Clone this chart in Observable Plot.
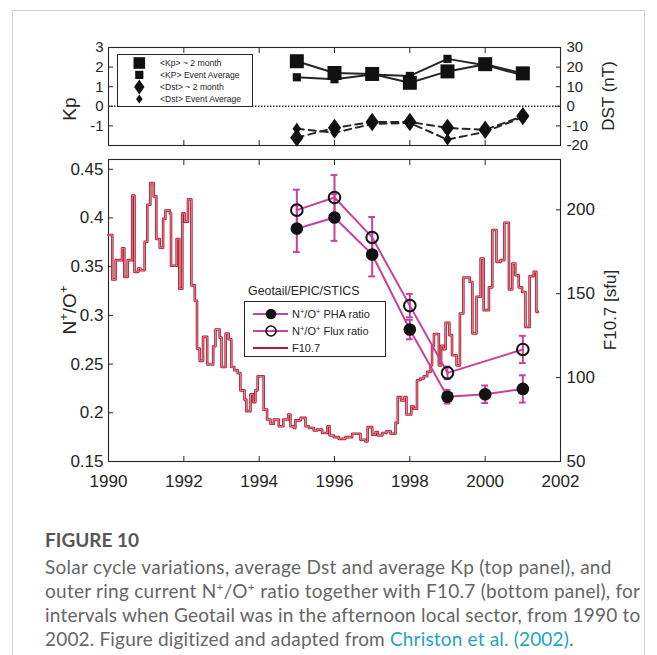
<!DOCTYPE html>
<html>
<head>
<meta charset="utf-8">
<script src="https://cdn.jsdelivr.net/npm/d3@7"></script>
<script src="https://cdn.jsdelivr.net/npm/@observablehq/plot@0.6"></script>
<style>
  body { margin: 0; background: #fff; }
  #fig { position: relative; width: 657px; height: 655px; overflow: hidden; font-family: "Liberation Sans", Arial, sans-serif; color: #262626; }
  #fig svg { position: absolute; left: 0; }
  .border { position: absolute; left: 12px; top: 10px; width: 631px; height: 720px; border: 1px solid #d4d4d4; }
  .ytitle { position: absolute; white-space: nowrap; transform: translate(-50%, -50%) rotate(-90deg); font-size: 19px; color: #262626; }
  .ytitle sup { font-size: 13px; vertical-align: 8px; line-height: 0; }
  .caption-title { position: absolute; left: 45px; top: 528px; font-family: Lato, sans-serif; font-weight: 700; font-size: 19px; color: #555; }
  .caption { position: absolute; left: 45px; top: 555px; font-family: Lato, sans-serif; font-size: 19px; line-height: 24px; color: #666; white-space: nowrap; }
  .caption .ln { display: block; width: max-content; }
  .caption sup { font-size: 12px; vertical-align: 7px; line-height: 0; }
  .caption a { color: #1ea5c0; text-decoration: none; }
</style>
</head>
<body>
<div id="fig">
  <div class="border"></div>
</div>
<script>
// Geotail afternoon-sector intervals, 1995–2001
const years = [1995, 1996, 1997, 1998, 1999, 2000, 2001];
const kpTwoMonth = [2.3, 1.7, 1.65, 1.2, 1.78, 2.15, 1.68];
const kpEvent = [1.48, 1.38, 1.62, 1.55, 2.42, 2.1, 1.58];
const dstTwoMonth = [-16, -11, -8, -8, -11, -12, -5];
const dstEvent = [-11.5, -13.5, -9, -8.5, -17, -13, -5.5];

// N+/O+ ratios with error half-widths
const phaRatio = [0.389, 0.4005, 0.3625, 0.2855, 0.2165, 0.219, 0.2245];
const phaError = [0.024, 0.024, 0.0225, 0.010, 0.007, 0.009, 0.014];
const fluxYears = [1995, 1996, 1997, 1998, 1999, 2001];
const fluxRatio = [0.408, 0.421, 0.380, 0.310, 0.241, 0.265];
const fluxError = [0.021, 0.023, 0.021, 0.012, 0.0065, 0.014];

// F10.7 solar flux (sfu), step series: start of each interval and its value
const f107Year = [1990.00,1990.10,1990.19,1990.36,1990.42,1990.51,1990.63,1990.69,1990.79,1990.85,1990.96,
  1991.03,1991.11,1991.20,1991.27,1991.36,1991.45,1991.51,1991.63,1991.66,1991.81,1991.88,1991.96,
  1992.02,1992.11,1992.20,1992.29,1992.35,1992.42,1992.51,1992.62,1992.78,1992.84,1992.95,
  1993.00,1993.11,1993.19,1993.26,1993.34,1993.43,1993.50,1993.61,1993.66,1993.77,1993.84,1993.90,1993.96,
  1994.12,1994.21,1994.30,1994.39,1994.52,1994.64,1994.77,1994.83,1994.92,1994.96,
  1995.10,1995.23,1995.32,1995.45,1995.54,1995.67,1995.81,1995.87,1995.98,
  1996.11,1996.29,1996.47,1996.69,1996.82,1996.88,
  1997.00,1997.09,1997.15,1997.27,1997.38,1997.49,1997.62,1997.68,1997.77,1997.86,1997.91,
  1998.04,1998.10,1998.19,1998.28,1998.37,1998.46,1998.55,1998.59,1998.64,1998.77,1998.83,1998.89,1998.95,
  1999.05,1999.12,1999.24,1999.33,1999.42,1999.59,1999.66,1999.77,1999.88,1999.96,
  2000.10,2000.19,2000.30,2000.41,2000.51,2000.63,2000.72,2000.80,2000.89,2000.98,
  2001.07,2001.18,2001.29,2001.36];
const f107Value = [185,158.5,170,177,160,170,208.5,163,165,164,181,
  203,216,208,182.6,177.4,194.6,199.5,198,166.7,182.6,153,198,
  193,206.3,155,145.8,117.3,110,124.3,107.8,118.7,128.7,123.9,
  106.3,126.3,122.9,106.3,104.4,102.7,92.4,86.9,80,90,85.4,92.4,100.8,
  80.9,75,72.5,75,71,75,78,71,70,74.5,
  76,71,70,68.5,69,67,71,65.5,64.5,
  63.5,64.5,66.5,63,62,70.5,
  66,67.5,65.5,67,68,66.5,73,88.4,86.4,88.4,78,
  82.9,81.5,98.4,99.4,100.8,103.4,107.3,119,126,107.3,119,117,132.6,
  125.3,113.3,107.3,138.2,159.7,157,126.3,148.2,171,140.2,
  153.8,188,169,170,192.3,152.6,168,161,153.8,151,
  130.2,160.5,163,139.2];
const f107End = 2001.40;

// Axis ticks
const yearTicks = [1990, 1992, 1994, 1996, 1998, 2000, 2002];
const kpTicks = [-1, 0, 1, 2, 3];
const dstTicks = [-20, -10, 0, 10, 20, 30];
const ratioTicks = [0.15, 0.2, 0.25, 0.3, 0.35, 0.4, 0.45];
const f107Ticks = [50, 100, 150, 200];

// Right-hand axes share the left-hand scales through linear maps
const dstToKp = d => d / 10;
const f107ToRatio = f => 0.15 + (f - 50) * 0.31 / 180;

const ink = "#262626";
const magenta = "#c6429b";
const crimson = "#b3192f";
const font = '"Liberation Sans", Arial, sans-serif';

// diamond a little narrower than it is tall
const diamond = {
  draw(ctx, size) {
    const h = Math.sqrt(size / Math.PI), w = h * 0.72;
    ctx.moveTo(0, -h); ctx.lineTo(w, 0); ctx.lineTo(0, h); ctx.lineTo(-w, 0); ctx.closePath();
  }
};

const geo = years.map((year, i) => ({
  year, kp2: kpTwoMonth[i], kpE: kpEvent[i], dst2: dstTwoMonth[i], dstE: dstEvent[i],
  pha: phaRatio[i], phaErr: phaError[i]
}));
const flux = fluxYears.map((year, i) => ({year, ratio: fluxRatio[i], err: fluxError[i]}));
const f107 = f107Year.map((year, i) => ({year, f: f107Value[i]}))
  .concat([{year: f107End, f: f107Value[f107Value.length - 1]}]);

// ---------- top panel: Kp and Dst ----------
const topPanel = Plot.plot({
  width: 657, height: 160,
  marginLeft: 108, marginRight: 97, marginTop: 47, marginBottom: 15,
  x: {domain: [1990, 2002]},
  y: {domain: [-2, 3]},
  style: {fontFamily: font, fontSize: "15px", color: ink, background: "transparent", overflow: "visible"},
  marks: [
    Plot.ruleY([0], {stroke: ink, strokeWidth: 1.6, strokeDasharray: "1.4,1.6"}),
    Plot.axisX(yearTicks, {anchor: "top", tickSize: -5, tickFormat: () => "", label: null}),
    Plot.axisX(yearTicks, {anchor: "bottom", tickSize: -5, tickFormat: () => "", label: null}),
    Plot.axisY(kpTicks, {anchor: "left", tickSize: -5, tickPadding: 10, label: null, fontSize: 15, tickFormat: d => String(d)}),
    Plot.axisY(dstTicks.map(dstToKp), {anchor: "right", tickSize: -5, tickPadding: 11, label: null, fontSize: 15, tickFormat: d => String(Math.round(d * 10))}),
    Plot.frame({stroke: ink, strokeWidth: 1.1}),
    Plot.line(geo, {x: "year", y: d => dstToKp(d.dst2), stroke: ink, strokeWidth: 2, strokeDasharray: "7,5"}),
    Plot.line(geo, {x: "year", y: d => dstToKp(d.dstE), stroke: ink, strokeWidth: 2, strokeDasharray: "7,5"}),
    Plot.line(geo, {x: "year", y: "kp2", stroke: ink, strokeWidth: 2}),
    Plot.line(geo, {x: "year", y: "kpE", stroke: ink, strokeWidth: 2}),
    Plot.dot(geo, {x: "year", y: d => dstToKp(d.dst2), symbol: diamond, r: 9.2, fill: "#111", stroke: "none"}),
    Plot.dot(geo, {x: "year", y: d => dstToKp(d.dstE), symbol: diamond, r: 6, fill: "#111", stroke: "none"}),
    Plot.dot(geo, {x: "year", y: "kp2", symbol: "square", r: 7.9, fill: "#111", stroke: "none"}),
    Plot.dot(geo, {x: "year", y: "kpE", symbol: "square", r: 4.6, fill: "#111", stroke: "none"})
  ]
});
topPanel.style.top = "0px";

// ---------- bottom panel: N+/O+ ratio and F10.7 ----------
const bottomPanel = Plot.plot({
  width: 657, height: 345,
  marginLeft: 108, marginRight: 97, marginTop: 9, marginBottom: 34,
  x: {domain: [1990, 2002]},
  y: {domain: [0.15, 0.46]},
  style: {fontFamily: font, fontSize: "17px", color: ink, background: "transparent", overflow: "visible"},
  marks: [
    Plot.axisX(yearTicks, {anchor: "top", tickSize: -5, tickFormat: () => "", label: null}),
    Plot.axisX(yearTicks, {anchor: "bottom", tickSize: -5, tickPadding: 18, label: null, fontSize: 17, tickFormat: d => String(d)}),
    Plot.axisY(ratioTicks, {anchor: "left", tickSize: -5, tickPadding: 10, label: null, fontSize: 17, tickFormat: d => String(+d.toFixed(2))}),
    Plot.axisY(f107Ticks.map(f107ToRatio), {anchor: "right", tickSize: -5, tickPadding: 11, label: null, fontSize: 17,
      tickFormat: d => String(Math.round(50 + (d - 0.15) * 180 / 0.31))}),
    Plot.frame({stroke: ink, strokeWidth: 1.1}),
    // F10.7 drawn as a double stroke
    Plot.line(f107, {x: "year", y: d => f107ToRatio(d.f), curve: "step-after", stroke: crimson, strokeWidth: 2.6}),
    Plot.line(f107, {x: "year", y: d => f107ToRatio(d.f), curve: "step-after", stroke: "#efbcc3", strokeWidth: 0.7}),
    Plot.line(geo, {x: "year", y: "pha", stroke: magenta, strokeWidth: 2}),
    Plot.line(flux, {x: "year", y: "ratio", stroke: magenta, strokeWidth: 2}),
    // error bars with caps
    Plot.ruleX(geo, {x: "year", y1: d => d.pha - d.phaErr, y2: d => d.pha + d.phaErr, stroke: magenta, strokeWidth: 2}),
    Plot.ruleX(flux, {x: "year", y1: d => d.ratio - d.err, y2: d => d.ratio + d.err, stroke: magenta, strokeWidth: 2}),
    Plot.ruleY(geo, {y: d => d.pha + d.phaErr, x1: d => d.year - 0.09, x2: d => d.year + 0.09, stroke: magenta, strokeWidth: 2}),
    Plot.ruleY(geo, {y: d => d.pha - d.phaErr, x1: d => d.year - 0.09, x2: d => d.year + 0.09, stroke: magenta, strokeWidth: 2}),
    Plot.ruleY(flux, {y: d => d.ratio + d.err, x1: d => d.year - 0.09, x2: d => d.year + 0.09, stroke: magenta, strokeWidth: 2}),
    Plot.ruleY(flux, {y: d => d.ratio - d.err, x1: d => d.year - 0.09, x2: d => d.year + 0.09, stroke: magenta, strokeWidth: 2}),
    Plot.dot(geo, {x: "year", y: "pha", r: 6.3, fill: "#111", stroke: "none"}),
    Plot.dot(flux, {x: "year", y: "ratio", r: 5.8, fill: "none", stroke: "#111", strokeWidth: 2})
  ]
});
bottomPanel.style.top = "150px";

const fig = document.getElementById("fig");
fig.appendChild(topPanel);
fig.appendChild(bottomPanel);

// ---------- legends ----------
const topLegend = `
<svg width="137" height="54" style="left:117px;top:54px;position:absolute" font-family='${font}' font-size="8.6" fill="${ink}">
  <rect x="0.5" y="0.5" width="135" height="52" fill="#fff" stroke="${ink}" stroke-width="1"/>
  <rect x="16.5" y="3.2" width="11.6" height="11.6" fill="#111"/>
  <rect x="18.2" y="16.8" width="8.2" height="8.2" fill="#111"/>
  <path d="M22.3,25.6 L27.5,33 L22.3,40.4 L17.1,33 Z" fill="#111"/>
  <path d="M22.3,40.6 L25.6,45 L22.3,49.4 L19,45 Z" fill="#111"/>
  <text x="43" y="12">&lt;Kp&gt; ~ 2 month</text>
  <text x="43" y="24">&lt;KP&gt; Event Average</text>
  <text x="43" y="36">&lt;Dst&gt; ~ 2 month</text>
  <text x="43" y="48">&lt;Dst&gt; Event Average</text>
</svg>`;
const bottomLegend = `
<div style="position:absolute;left:248px;top:284px;font-size:12.4px;color:${ink};white-space:nowrap">Geotail/EPIC/STICS</div>
<svg width="143" height="57" style="left:244px;top:301px;position:absolute" font-family='${font}' font-size="11" fill="${ink}">
  <rect x="0.5" y="0.5" width="141" height="55" fill="#fff" stroke="${ink}" stroke-width="1"/>
  <line x1="9" x2="44" y1="13" y2="13" stroke="${magenta}" stroke-width="2"/>
  <circle cx="27" cy="13" r="5.3" fill="#111"/>
  <line x1="9" x2="44" y1="30" y2="30" stroke="${magenta}" stroke-width="2"/>
  <circle cx="27" cy="30" r="5" fill="none" stroke="#111" stroke-width="1.6"/>
  <line x1="9" x2="44" y1="47" y2="47" stroke="${crimson}" stroke-width="2"/>
  <text x="48" y="17">N<tspan dy="-4" font-size="7.5">+</tspan><tspan dy="4">/O</tspan><tspan dy="-4" font-size="7.5">+</tspan><tspan dy="4"> PHA ratio</tspan></text>
  <text x="48" y="34">N<tspan dy="-4" font-size="7.5">+</tspan><tspan dy="4">/O</tspan><tspan dy="-4" font-size="7.5">+</tspan><tspan dy="4"> Flux ratio</tspan></text>
  <text x="48" y="51">F10.7</text>
</svg>`;

// ---------- axis titles and caption ----------
fig.insertAdjacentHTML("beforeend", topLegend + bottomLegend + `
<div class="ytitle" style="left:70px;top:109px">Kp</div>
<div class="ytitle" style="left:609px;top:96px;font-size:17px">DST (nT)</div>
<div class="ytitle" style="left:70px;top:310px">N<sup>+</sup>/O<sup>+</sup></div>
<div class="ytitle" style="left:611px;top:310px;font-size:17px">F10.7 [sfu]</div>
<div class="caption-title">FIGURE 10</div>
<div class="caption">
  <span class="ln" data-w="567">Solar cycle variations, average Dst and average Kp (top panel), and</span>
  <span class="ln" data-w="595">outer ring current N<sup>+</sup>/O<sup>+</sup> ratio together with F10.7 (bottom panel), for</span>
  <span class="ln" data-w="595">intervals when Geotail was in the afternoon local sector, from 1990 to</span>
  <span class="ln" data-w="529">2002. Figure digitized and adapted from <a>Christon et al. (2002)</a>.</span>
</div>
`);

// set each caption line to its column width by adjusting letter spacing
for (const ln of fig.querySelectorAll(".caption .ln")) {
  const target = +ln.dataset.w;
  const n = ln.textContent.length;
  const w = ln.getBoundingClientRect().width;
  ln.style.letterSpacing = `${(target - w) / n}px`;
}
</script>
</body>
</html>
